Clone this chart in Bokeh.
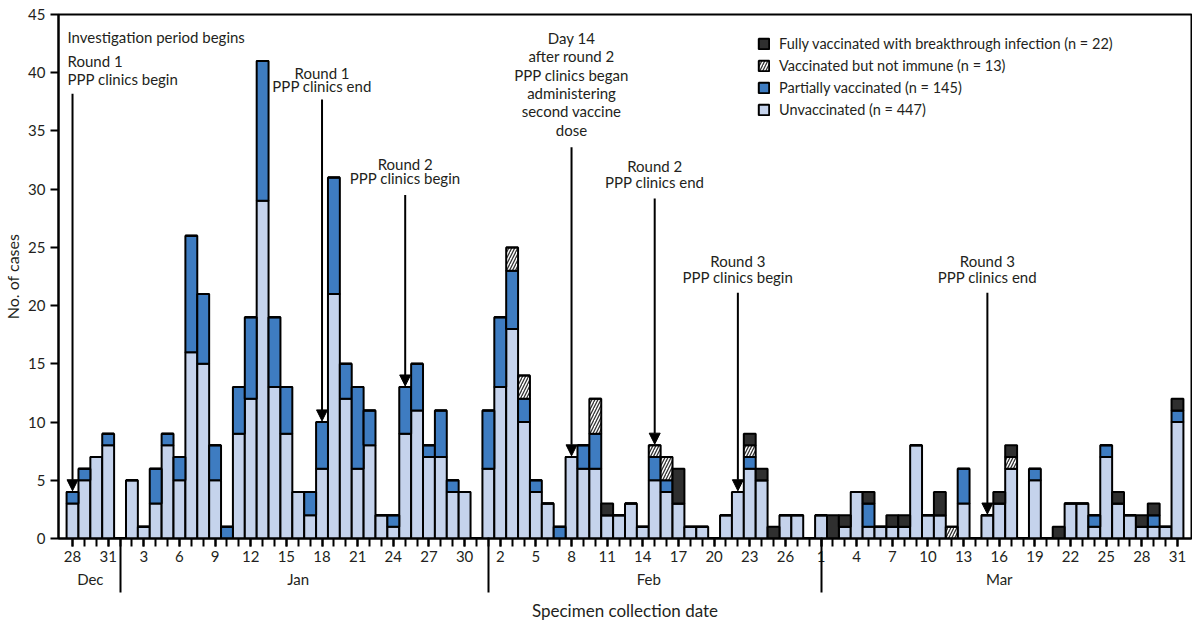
import pandas as pd
from bokeh.core.properties import value
from bokeh.embed import file_html
from bokeh.models import (Arrow, ColumnDataSource, FixedTicker, Legend,
                          LegendItem, LinearAxis, NormalHead, Range1d)
from bokeh.plotting import figure
from bokeh.resources import INLINE

FONT = "Lato"
INK = "#231f20"

# one entry per day, Dec 28 2020 .. Mar 31 2021
dates = pd.date_range("2020-12-28", "2021-03-31")

unvaccinated = (
    [3, 5, 7, 8]
    + [0, 5, 1, 3, 8, 5, 16, 15, 5, 0, 9, 12, 29, 13, 9, 4, 2, 6, 21, 12,
       6, 8, 2, 1, 9, 11, 7, 7, 4, 4, 0]
    + [6, 13, 18, 10, 4, 3, 0, 7, 6, 6, 2, 2, 3, 1, 5, 4, 3, 1, 1, 0,
       2, 4, 6, 5, 0, 2, 2, 0]
    + [2, 0, 1, 4, 1, 1, 1, 1, 8, 2, 2, 0, 3, 0, 2, 3, 6, 0, 5, 0,
       0, 3, 3, 1, 7, 3, 2, 1, 1, 1, 10])
partial = (
    [1, 1, 0, 1]
    + [0, 0, 0, 3, 1, 2, 10, 6, 3, 1, 4, 7, 12, 6, 4, 0, 2, 4, 10, 3,
       7, 3, 0, 1, 4, 4, 1, 4, 1, 0, 0]
    + [5, 6, 5, 2, 1, 0, 1, 0, 2, 3, 0, 0, 0, 0, 2, 1, 0, 0, 0, 0,
       0, 0, 1, 0, 0, 0, 0, 0]
    + [0, 0, 0, 0, 2, 0, 0, 0, 0, 0, 0, 0, 3, 0, 0, 0, 0, 0, 1, 0,
       0, 0, 0, 1, 1, 0, 0, 0, 1, 0, 1])
not_immune = (
    [0, 0, 0, 0]
    + [0] * 31
    + [0, 0, 2, 2, 0, 0, 0, 0, 0, 3, 0, 0, 0, 0, 1, 2, 0, 0, 0, 0,
       0, 0, 1, 0, 0, 0, 0, 0]
    + [0, 0, 0, 0, 0, 0, 0, 0, 0, 0, 0, 1, 0, 0, 0, 0, 1, 0, 0, 0,
       0, 0, 0, 0, 0, 0, 0, 0, 0, 0, 0])
breakthrough = (
    [0, 0, 0, 0]
    + [0] * 31
    + [0, 0, 0, 0, 0, 0, 0, 0, 0, 0, 1, 0, 0, 0, 0, 0, 3, 0, 0, 0,
       0, 0, 1, 1, 1, 0, 0, 0]
    + [0, 2, 1, 0, 1, 0, 1, 1, 0, 0, 2, 0, 0, 0, 0, 1, 1, 0, 0, 0,
       1, 0, 0, 0, 0, 1, 0, 1, 1, 0, 1])

series = ["unvaccinated", "partial", "not_immune", "breakthrough"]
names = ["Unvaccinated", "Partially vaccinated", "Vaccinated but not immune",
         "Fully vaccinated with breakthrough infection"]
colors = ["#c5d3ec", "#3e7cc1", "white", "#2f2f2f"]
hatches = [" ", " ", "/", " "]

# (date of the arrow, text lines)
events = [
    ("2020-12-28", ["Investigation period begins", "Round 1",
                    "PPP clinics begin"]),
    ("2021-01-18", ["Round 1", "PPP clinics end"]),
    ("2021-01-25", ["Round 2", "PPP clinics begin"]),
    ("2021-02-08", ["Day 14", "after round 2", "PPP clinics began",
                    "administering", "second vaccine", "dose"]),
    ("2021-02-15", ["Round 2", "PPP clinics end"]),
    ("2021-02-22", ["Round 3", "PPP clinics begin"]),
    ("2021-03-15", ["Round 3", "PPP clinics end"]),
]

x = list(range(len(dates)))
data = dict(x=x, unvaccinated=unvaccinated, partial=partial,
            not_immune=not_immune, breakthrough=breakthrough)
src = ColumnDataSource(data)
totals = [sum(v) for v in zip(unvaccinated, partial, not_immune, breakthrough)]

p = figure(width=1192, height=627, output_backend="svg",
           toolbar_location=None,
           x_range=Range1d(-1.18, len(dates) - 1 + 1.18),
           y_range=Range1d(0, 45),
           min_border_left=58, min_border_right=1, min_border_top=14,
           min_border_bottom=89)
p.xgrid.visible = False
p.ygrid.visible = False
p.outline_line_color = "black"
p.outline_line_width = 2
p.background_fill_color = "white"

bars = p.vbar_stack(series, x="x", width=1.0, source=src,
                    fill_color=colors, line_color="black", line_width=2,
                    hatch_pattern=hatches, hatch_color="#333333",
                    hatch_scale=6, hatch_weight=1.3)

# legend, top group first
items = []
for r, name, key in reversed(list(zip(bars, names, series))):
    items.append(LegendItem(label=f"{name} (n = {sum(data[key])})",
                            renderers=[r]))
legend = Legend(items=items, location=(699, 420), glyph_width=13,
                glyph_height=13, label_text_font=FONT,
                label_text_font_size="14.5px", label_text_color=INK,
                label_height=18, spacing=4, padding=0, margin=0,
                label_standoff=9, border_line_color=None,
                background_fill_alpha=0)
p.add_layout(legend)

# x axis: a tick per day, labels every third day
idx = {d.strftime("%Y-%m-%d"): i for i, d in enumerate(dates)}
label_days = x[::3]
xa = p.xaxis[0]
xa.ticker = FixedTicker(ticks=label_days, minor_ticks=x)
xa.major_label_overrides = {i: str(dates[i].day) for i in label_days}
xa.major_tick_out = 8
xa.minor_tick_out = 8
xa.major_tick_in = 0
xa.minor_tick_in = 0
xa.axis_line_width = 2
xa.major_tick_line_width = 2
xa.minor_tick_line_width = 2
xa.major_label_standoff = 4
xa.major_label_text_font = FONT
xa.major_label_text_font_size = "15px"
xa.major_label_text_color = INK

# month names centred under their days
months = pd.Series(x, index=dates).groupby(dates.to_period("M"))
mids = [(g.iloc[0] + g.iloc[-1]) / 2 for _, g in months]
mon = LinearAxis(ticker=FixedTicker(ticks=mids, minor_ticks=[]),
                 major_label_overrides={m: str(per.strftime("%b"))
                                        for m, (per, _) in zip(mids, months)},
                 axis_line_color=None, major_tick_line_color=None,
                 minor_tick_line_color=None, major_tick_out=0,
                 major_tick_in=0, minor_tick_out=0, minor_tick_in=0,
                 major_label_standoff=5, major_label_text_font=FONT,
                 major_label_text_font_size="15px",
                 major_label_text_color=INK)
p.add_layout(mon, "below")

# long separators at the first day of each month, reaching up to the frame
starts = [i for i in x if dates[i].day == 1]
sep = LinearAxis(ticker=FixedTicker(ticks=starts, minor_ticks=[]),
                 major_label_overrides={i: "" for i in starts},
                 major_label_text_font_size="1px", major_label_standoff=0,
                 axis_line_color=None, major_tick_in=53, major_tick_out=2,
                 major_tick_line_width=2, minor_tick_line_color=None,
                 minor_tick_in=0, minor_tick_out=0)
sep.axis_label = "Specimen collection date"
sep.axis_label_text_font = FONT
sep.axis_label_text_font_size = "17px"
sep.axis_label_text_font_style = "normal"
sep.axis_label_text_color = INK
sep.axis_label_standoff = 7
p.add_layout(sep, "below")

ya = p.yaxis[0]
ya.ticker = FixedTicker(ticks=list(range(0, 46, 5)), minor_ticks=[])
ya.major_tick_out = 8
ya.major_tick_in = 0
ya.axis_line_width = 2
ya.major_tick_line_width = 2
ya.major_label_standoff = 5
ya.major_label_text_font = FONT
ya.major_label_text_font_size = "15px"
ya.major_label_text_color = INK
ya.axis_label = "No. of cases"
ya.axis_label_text_font = FONT
ya.axis_label_text_font_size = "16px"
ya.axis_label_text_font_style = "normal"
ya.axis_label_text_color = INK
ya.axis_label_standoff = 3

# event labels and arrows
tops = [38.2, 37.7, 29.5, 33.6, 29.2, 21.1, 21.1]
first_line = [43.1, 40.0, 32.2, 43.0, 31.95, 23.8, 23.8]
gaps = [None, 1.1, 1.2, 1.58, 1.3, 1.3, 1.3]
for (day, lines), top, y0, gap in zip(events, tops, first_line, gaps):
    i = idx[day]
    if gap is None:
        tx = [i - 0.42] * 3
        ty = [43.1, 40.97, 39.42]
        align = "left"
    else:
        tx = [i] * len(lines)
        ty = [y0 - k * gap for k in range(len(lines))]
        align = "center"
    p.text(x=tx, y=ty, text=lines, text_font=value(FONT),
           text_font_size="15px", text_color=INK, text_align=align,
           text_baseline="middle")
    p.add_layout(Arrow(end=NormalHead(size=11, fill_color="black",
                                      line_color="black", line_width=1),
                       x_start=i, y_start=top, x_end=i, y_end=totals[i] + 0.1,
                       line_width=2, line_color="black"))

open("out.html", "w").write(file_html(p, INLINE))
